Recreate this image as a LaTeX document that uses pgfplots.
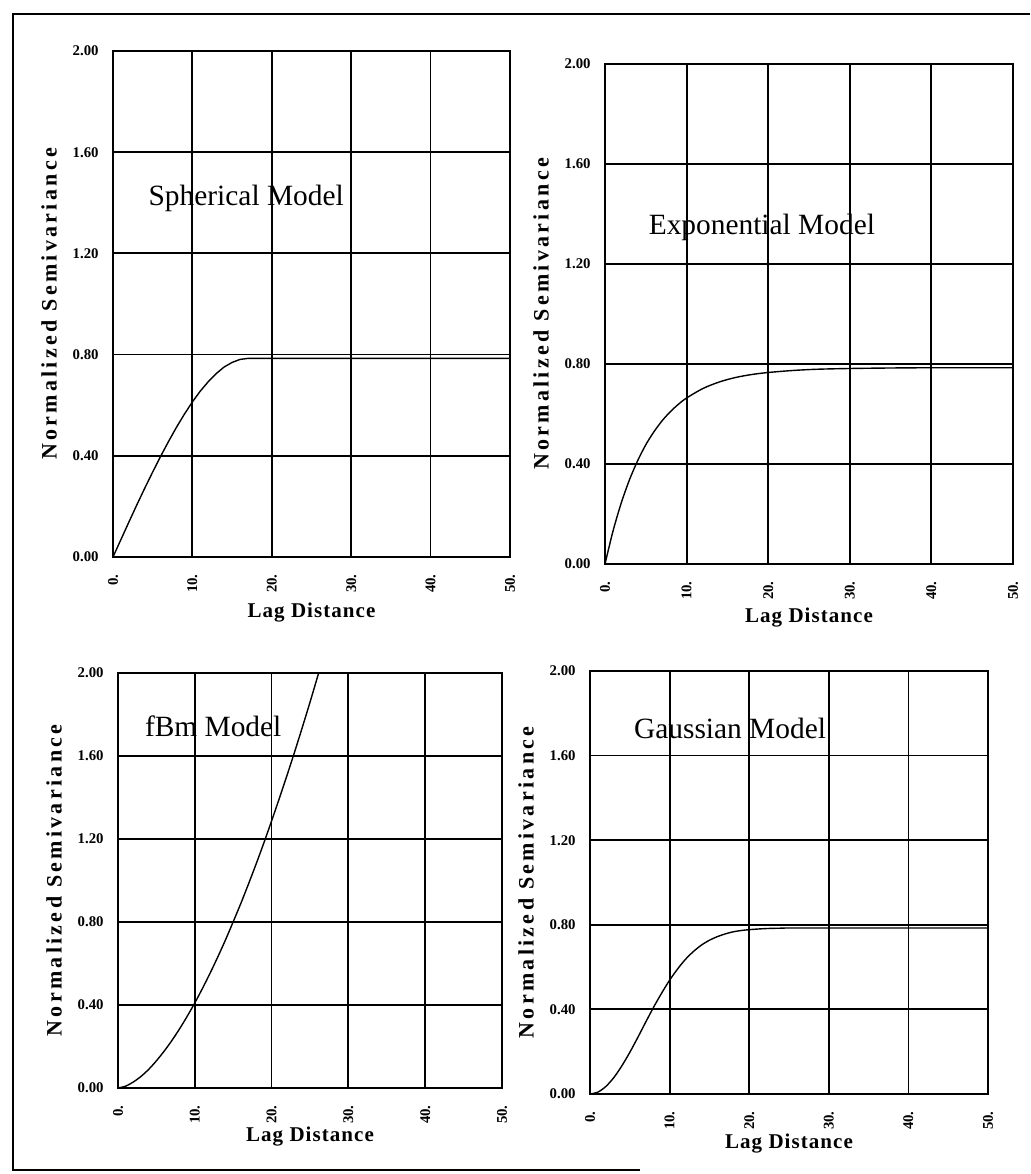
\documentclass[border=0pt]{standalone}
\usepackage{fontspec}
\setmainfont{Liberation Serif}
\newfontfamily\ylabfont{Liberation Serif}[LetterSpace=15]
\newfontfamily\xlabfont{Liberation Serif}[LetterSpace=5]
\usepackage{pgfplots}
\pgfplotsset{compat=1.18}
\pgfplotsset{
  panel/.style={
    scale only axis, anchor=south west,
    xmin=0, xmax=50, ymin=0, ymax=2,
    xtick={0,10,20,30,40,50}, xticklabels={0.,10.,20.,30.,40.,50.},
    ytick={0,0.4,0.8,1.2,1.6,2},
    yticklabels={0.00,0.40,0.80,1.20,1.60,2.00},
    grid=major, major grid style={black, line width=0.9pt},
    axis line style={line width=1.2pt},
    major tick length=0pt,
    tick label style={font=\fontsize{7.4}{8}\selectfont\bfseries, inner sep=0pt},
    xticklabel style={rotate=90, anchor=east},
    xticklabel shift=8.5pt, yticklabel shift=7pt,
    xlabel={Lag Distance}, ylabel={Normalized Semivariance},
    every axis y label/.style={at={([xshift=-32pt]axis description cs:0,0.5)}, rotate=90, anchor=center,
      font=\ylabfont\bfseries\fontsize{11}{12}\selectfont},
  },
  xlab/.style={every axis x label/.style={at={([yshift=-#1]axis description cs:0.5,0)}, anchor=center,
      font=\xlabfont\bfseries\fontsize{10.5}{12}\selectfont}},
}
\tikzset{
  curve/.style={black, line width=0.7pt},
  ttl/.style={anchor=base west, font=\fontsize{14.7}{16}\selectfont},
}
\begin{document}
\begin{tikzpicture}[x=1pt,y=1pt]
\path[use as bounding box] (0,0) rectangle (515,587);
\draw[line width=1.3pt] (320,2) -- (6.5,2) -- (6.5,580) -- (515,580);

% Spherical
\begin{axis}[panel, xlab=28pt, at={(56.5pt,308.5pt)}, width=198.5pt, height=253pt]
\addplot[curve] coordinates {(0,0)(1,0.069)(2,0.138)(3,0.206)(4,0.272)(5,0.336)(6,0.398)(7,0.457)(8,0.513)(9,0.565)(10,0.613)(11,0.656)(12,0.693)(13,0.725)(14,0.751)(15,0.769)(16,0.781)(17,0.785)(50,0.785)};
\node[ttl] at (axis cs:3.6,1.39) {Spherical Model};
\end{axis}

% Exponential
\begin{axis}[panel, xlab=27pt, at={(302.5pt,305pt)}, width=204pt, height=250pt]
\addplot[curve, smooth] coordinates {(0,0)(1,0.134)(2,0.245)(3,0.337)(4,0.413)(5,0.477)(6,0.529)(7,0.573)(8,0.609)(9,0.639)(10,0.664)(12,0.702)(14,0.728)(16,0.746)(18,0.758)(20,0.766)(23,0.774)(26,0.779)(30,0.782)(35,0.784)(40,0.785)(50,0.785)};
\node[ttl] at (axis cs:4.5,1.316) {Exponential Model};
\end{axis}

% fBm
\begin{axis}[panel, xlab=24.5pt, at={(59pt,43pt)}, width=192pt, height=207.5pt]
\addplot[curve, smooth] coordinates {(0,0)(1,0.009)(2,0.029)(3,0.056)(4,0.090)(5,0.131)(6,0.177)(7,0.228)(8,0.284)(9,0.345)(10,0.410)(11,0.480)(12,0.554)(13,0.632)(14,0.714)(15,0.801)(16,0.890)(17,0.984)(18,1.081)(19,1.182)(20,1.287)(21,1.395)(22,1.506)(23,1.620)(24,1.738)(25,1.859)(26,1.984)(27,2.111)};
\node[ttl] at (axis cs:2.6,1.692) {fBm Model};
\end{axis}

% Gaussian
\begin{axis}[panel, xlab=25pt, at={(295pt,40pt)}, width=199pt, height=211.5pt]
\addplot[curve, smooth] coordinates {(0,0)(1,0.009)(2,0.036)(3,0.078)(4,0.133)(5,0.197)(6,0.267)(7,0.340)(8,0.411)(9,0.477)(10,0.538)(11,0.591)(12,0.637)(13,0.674)(14,0.704)(15,0.727)(16,0.744)(17,0.757)(18,0.767)(19,0.773)(20,0.777)(22,0.782)(24,0.784)(27,0.785)(50,0.785)};
\node[ttl] at (axis cs:4.65,1.683) {Gaussian Model};
\end{axis}
\end{tikzpicture}
\end{document}
